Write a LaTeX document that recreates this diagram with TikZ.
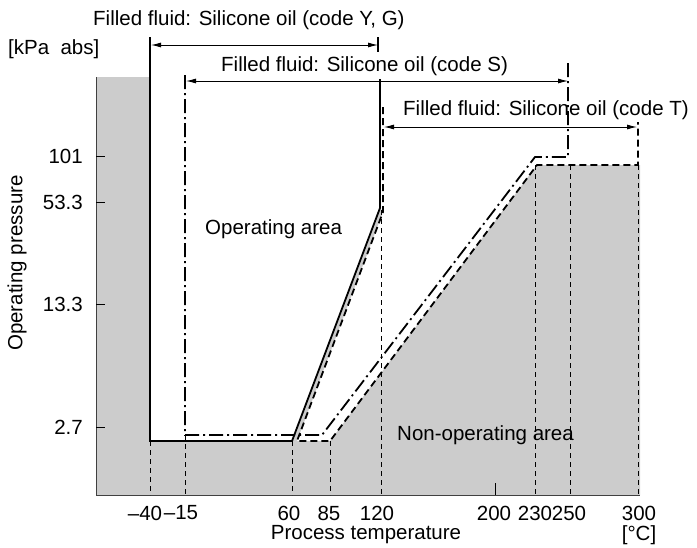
\documentclass[tikz,border=0pt]{standalone}
\usepackage{fontspec}
\setmainfont{Liberation Sans}
\usetikzlibrary{arrows.meta}

\tikzset{
  curve/.style={line width=1.8pt},
  dashcurve/.style={line width=1.8pt, dash pattern=on 7pt off 4pt},
  dotcurve/.style={line width=1.8pt, dash pattern=on 14pt off 4pt on 2pt off 4pt},
  guide/.style={line width=0.9pt, dash pattern=on 5pt off 4pt},
  span/.style={line width=0.9pt, {Latex[length=10pt,width=5pt]}-{Latex[length=10pt,width=5pt]}},
}

\begin{document}
\begin{tikzpicture}[x=1pt, y=-1pt, every node/.style={font=\fontsize{20.5}{24}\selectfont, inner sep=0pt}]
  \useasboundingbox (0,0) rectangle (697,547);
  \fill[black!20] (96,77) -- (150,77) -- (150,441) -- (292,441) -- (380,208) -- (383,212)
    -- (297,441) -- (330,441) -- (537,165) -- (640,165) -- (640,495) -- (96,495) -- cycle;
  \draw[black!75, line width=1pt] (96,77) -- (96,495) -- (640,495);
  \foreach \v/\y [count=\k] in {101/156, 53.3/202, 13.3/304, 2.7/427} {
    \draw[line width=0.9pt] (96,\y) -- (105,\y);
    \node[anchor=east] (ylab\k) at (83,\y) {\v};
  }
  \foreach \t/\x/\y/\lx [count=\k] in {–40/150/441/145, –15/185/435/181, 60/292/441/289,
                                       85/330/441/329, 120/381/210/377, 230/535/165/535,
                                       250/570/165/569, 300/638/165/639} {
    \draw[guide] (\x,\y) -- (\x,495);
    \node (xlab\k) at (\lx,513) {\t};
  }
  \draw[line width=0.9pt] (495,483) -- (495,495);
  \node (xlab200) at (494,513) {200};

  \draw[curve] (150,37) -- (150,441) -- (292,441) -- (380,208) -- (380,79);
  \draw[curve] (378,37) -- (378,52);
  \draw[dotcurve] (185,75) -- (185,435) -- (322,435) -- (535,157) -- (568,157) -- (568,63);
  \draw[dashcurve] (383,107) -- (383,212) -- (297,441) -- (330,441) -- (537,165) -- (638,165) -- (638,122);

  \coordinate (yg-l) at (151,45);
  \coordinate (yg-r) at (378,45);
  \coordinate (s-l) at (186,81);
  \coordinate (s-r) at (568,81);
  \coordinate (t-l) at (384,127);
  \coordinate (t-r) at (637,127);
  \draw[span] (yg-l) -- (yg-r);
  \draw[span] (s-l) -- (s-r);
  \draw[span] (t-l) -- (t-r);

  \node[anchor=west] (yg) at (93,20) {Filled fluid: Silicone oil (code Y, G)};
  \node[anchor=west] (unit) at (8,49) {[kPa\ \ abs]};
  \node[anchor=west] (s) at (221,66) {Filled fluid: Silicone oil (code S)};
  \node[anchor=west] (t) at (403,110) {Filled fluid: Silicone oil (code T)};
  \node[anchor=west] (op) at (205,229) {Operating area};
  \node[anchor=west] (nonop) at (397,435) {Non-operating area};
  \node[rotate=90] (ylabel) at (17,263) {Operating pressure};
  \node (xlabel) at (366,535) {Process temperature};
  \node (unitx) at (639,535) {[°C]};
\end{tikzpicture}
\end{document}
